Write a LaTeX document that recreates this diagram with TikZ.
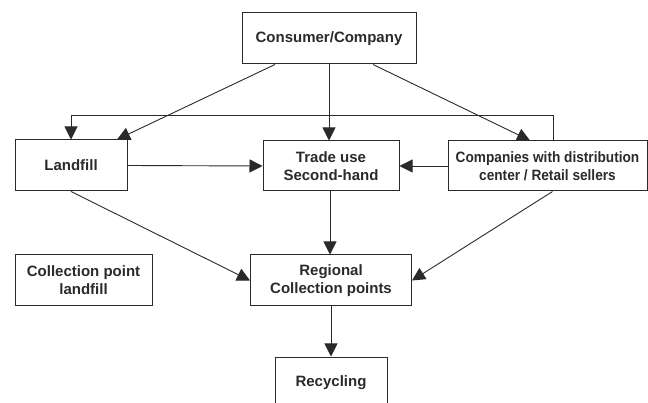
\documentclass[tikz,border=0pt]{standalone}
\usepackage{fontspec}
\setmainfont{Liberation Sans}
\newfontfamily\narrowsans[FakeStretch=0.91]{Liberation Sans}
\usepackage{tikz}
\usetikzlibrary{calc}
\usetikzlibrary{arrows.meta}
\definecolor{inkgray}{HTML}{2A2A2A}
\tikzset{
  box/.style={draw=inkgray, line width=1pt, rectangle, align=center, inner sep=2pt,
    text=inkgray, font=\fontsize{15}{18}\selectfont\bfseries},
  flow/.style={draw=inkgray, line width=0.9pt, -{Triangle[length=13pt,width=13pt]}}
}

\begin{document}
\begin{tikzpicture}[x=1pt,y=-1pt]
        \useasboundingbox (0,0) rectangle (648,403);
        \clip (0,0) rectangle (648,403);
        % row1
        \node[box, minimum width=174pt, minimum height=51pt] (consumer) at (329,38.5) {Consumer/Company};
        % row2
        \node[box, minimum width=112pt, minimum height=51pt] (landfill) at (71,165.5) {Landfill};
        \node[box, minimum width=136pt, minimum height=50pt] (trade) at (331,166) {Trade use\\Second-hand};
        \node[box, minimum width=199pt, minimum height=50pt, font=\fontsize{15}{18}\selectfont\narrowsans\bfseries] (companies) at (547.5,166) {Companies with distribution\\center / Retail sellers};
        % row3
        \node[box, minimum width=137pt, minimum height=51pt] (cplandfill) at (83.5,280.5) {Collection point\\landfill};
        \node[box, minimum width=161pt, minimum height=51pt] (regional) at (331,280.5) {Regional\\Collection points};
        % row4
        \node[box, minimum width=112pt, minimum height=52pt] (recycling) at (331,383) {Recycling};
        % arrows from consumer
        \draw[flow] ([xshift=-54pt]consumer.south) -- ([xshift=46pt]landfill.north);
        \draw[flow] (consumer.south) -- (consumer.south |- trade.north);
        \draw[flow] ([xshift=44pt]consumer.south) -- ([xshift=-17.5pt]companies.north);
        % arrows into trade use
        \draw[flow] (landfill.east) -- (trade.west);
        \draw[flow] (companies.west) -- (trade.east);
        % feedback line
        \draw[flow] ([xshift=5.5pt]companies.north) |- ([yshift=24pt]landfill.north) -- (landfill.north);
        % arrows into regional
        \draw[flow] (landfill.south) -- (regional.west);
        \draw[flow] ([xshift=-1pt]trade.south) -- ([xshift=-1pt]regional.north);
        \draw[flow] ([xshift=5pt]companies.south) -- (regional.east);
        % recycling
        \draw[flow] (regional.south) -- (recycling.north);
    \end{tikzpicture}
\end{document}
